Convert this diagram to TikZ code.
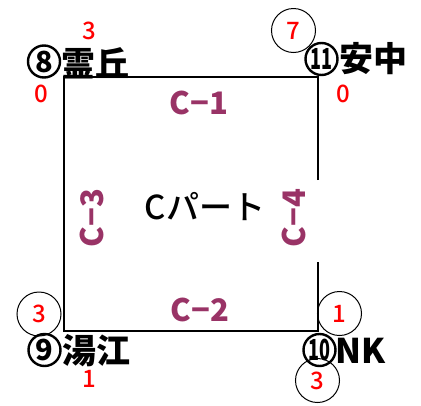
\documentclass[tikz,border=0pt]{standalone}
\usepackage{fontspec}
\setmainfont{Noto Sans CJK JP}
\newfontfamily\medfont{Noto Sans CJK JP}[UprightFont=* Medium]
\definecolor{plum}{HTML}{993366}
\begin{document}
\begin{tikzpicture}[x=1pt,y=-1pt,
  place/.style={font=\fontsize{34}{34}\selectfont\bfseries, inner sep=0pt, anchor=west},
  cnum/.style={circle, draw=black, line width=2.4pt, minimum size=32pt, inner sep=0pt,
    font=\fontsize{29}{29}\selectfont\bfseries},
  redno/.style={font=\fontsize{24}{24}\medfont, text=red, inner sep=0pt},
  ring/.style={circle, draw=black, line width=1pt, minimum size=44pt, inner sep=0pt,
    font=\fontsize{24}{24}\medfont, text=red},
  part/.style={font=\fontsize{31}{31}\selectfont\bfseries, text=plum, inner sep=0pt},
  frame/.style={line width=1.4pt, line join=miter}]
\useasboundingbox (0,0) rectangle (421,405);
% frame corners
\coordinate (tl) at (64,77);
\coordinate (tr) at (318,77);
\coordinate (br) at (318,331);
\coordinate (bl) at (64,331);
\coordinate (gapTop) at (318,180);
\coordinate (gapBot) at (318,262);
\draw[frame] (gapTop) -- (tr) -- (tl) -- (bl) -- (br) -- (gapBot);
% station labels
\node[cnum] (k8) at (44,61.5) {8};
\node[place] (reikyu) at (61,63) {霊丘};
\node[cnum] (k11) at (321.5,59) {\scalebox{0.62}[1]{11}};
\node[place] (annaka) at (339,59) {安中};
\node[cnum] (k9) at (44.5,350) {9};
\node[place] (yue) at (62,351) {湯江};
\node[cnum] (k10) at (319.5,350) {\scalebox{0.62}[1]{10}};
\node[place] (nk) at (335,351) {NK};
% plain red numbers
\node[redno] (n3a) at (89.5,31) {3};
\node[redno] (n0a) at (41,94) {0};
\node[redno] (n0b) at (343,93.5) {0};
\node[redno] (n1a) at (89,379) {1};
% circled red numbers
\node[ring] (r7) at (293.5,30.5) {7};
\node[ring] (r3a) at (39,314) {3};
\node[ring] (r1) at (339.5,313.5) {1};
\node[ring] (r3b) at (317.5,380.5) {3};
% part labels
\node[part] (c1) at (199,102.5) {C−1};
\node[part] (c2) at (200,309.5) {C−2};
\node[part, rotate=90] (c3) at (91.5,218) {C−3};
\node[part, rotate=90] (c4) at (293.5,218) {C−4};
\node[font=\fontsize{33}{33}\medfont, inner sep=0pt] (cpart) at (205,207) {Cパート};
\end{tikzpicture}
\end{document}
